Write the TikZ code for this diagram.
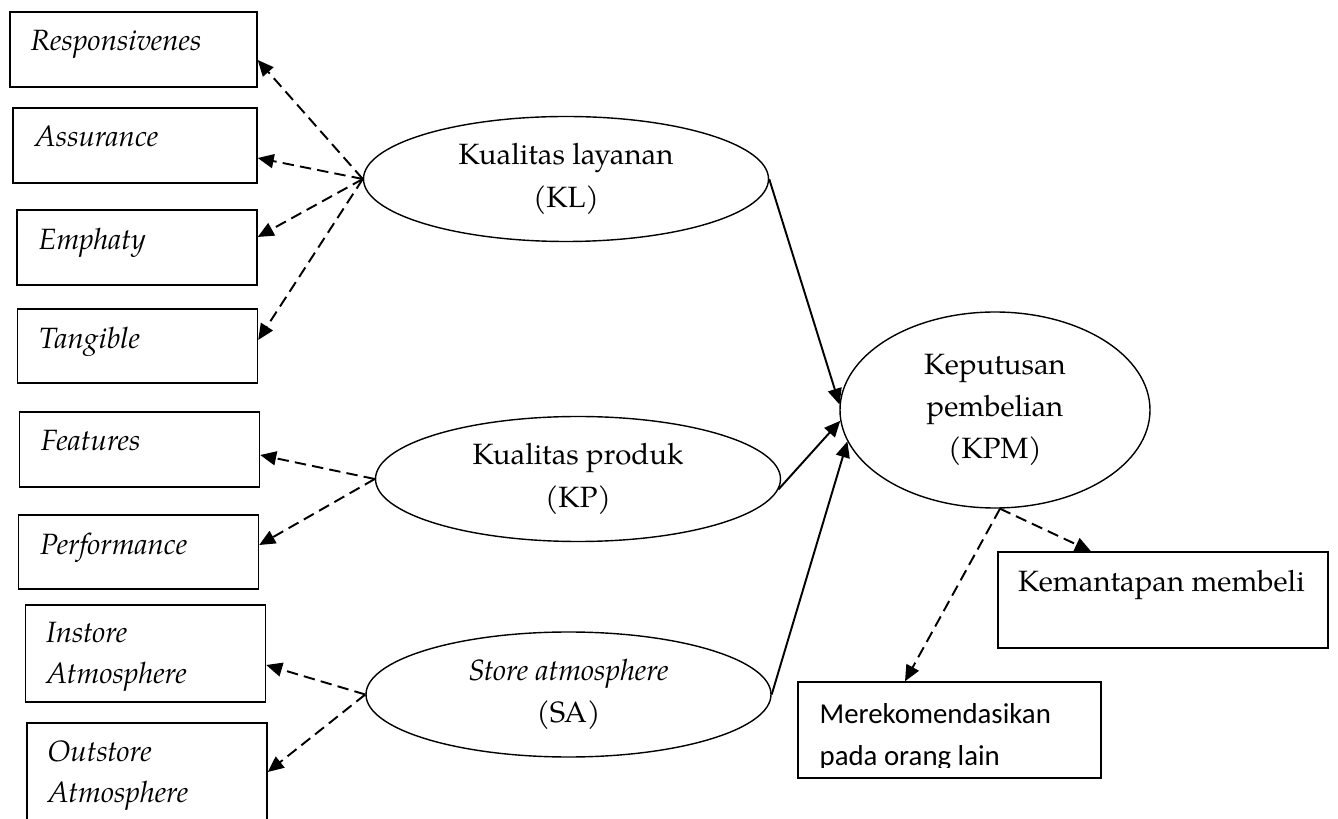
\documentclass[tikz,border=0pt]{standalone}
\usepackage{fontspec}
\setmainfont{TeX Gyre Pagella}
\newfontfamily\calibrifont{Carlito}
\usepackage{tikz}
\usetikzlibrary{shapes.geometric, positioning, arrows.meta}

\begin{document}
\begin{tikzpicture}[>={Triangle[length=3.2mm,width=2.8mm]},
					font=\fontsize{16.7}{23}\selectfont,
					ind/.style={draw, line width=0.8pt, minimum width=4.8cm, minimum height=1.5cm, inner sep=0pt},
					lat/.style={draw, ellipse, line width=0.8pt, minimum width=8.1cm, minimum height=2.5cm,
								inner sep=0pt, align=center, font=\fontsize{16.7}{24}\selectfont},
					lbl/.style={inner sep=0pt, align=left},
					load/.style={->, line width=1.1pt, dash pattern=on 6.5pt off 3.5pt},
					effect/.style={->, line width=1.1pt}]

	\useasboundingbox (0,0) rectangle (26.76,-16.38);

	% indikator
	\node[ind, minimum width=4.94cm] (res) at (2.67,-0.99) {};
	\node[ind, minimum width=4.88cm] (asr) at (2.70,-2.91) {};
	\node[ind] (emp) at (2.74,-4.95) {};
	\node[ind, minimum height=1.48cm] (tan) at (2.75,-6.92) {};
	\node[ind] (fea) at (2.79,-8.99) {};
	\node[ind, minimum height=1.48cm] (per) at (2.77,-11.04) {};
	\node[ind, minimum height=1.94cm] (ins) at (2.91,-13.07) {};
	\node[ind, minimum height=2.24cm] (out) at (2.94,-15.58) {};
	\node[ind, minimum width=6.6cm, minimum height=1.92cm] (kem) at (23.26,-12.00) {};
	\node[ind, minimum width=6.06cm, minimum height=1.92cm] (rek) at (18.99,-14.60) {};

	\node[lbl, below right=0.37cm and 0.42cm of res.north west] (res-t) {\itshape Responsivenes};
	\node[lbl, below right=0.37cm and 0.44cm of asr.north west] (asr-t) {\itshape Assurance};
	\node[lbl, below right=0.36cm and 0.44cm of emp.north west] (emp-t) {\itshape Emphaty};
	\node[lbl, below right=0.36cm and 0.44cm of tan.north west] (tan-t) {\itshape Tangible};
	\node[lbl, below right=0.37cm and 0.44cm of fea.north west] (fea-t) {\itshape Features};
	\node[lbl, below right=0.37cm and 0.44cm of per.north west] (per-t) {\itshape Performance};
	\node[lbl, below right=0.36cm and 0.42cm of ins.north west] (ins-t) {\itshape Instore\\\itshape Atmosphere};
	\node[lbl, below right=0.37cm and 0.42cm of out.north west] (out-t) {\itshape Outstore\\\itshape Atmosphere};
	\node[lbl, below right=0.37cm and 0.41cm of kem.north west] (kem-t) {Kemantapan membeli};
	\begin{scope}
		\clip (rek.north west) rectangle ([yshift=2.2mm]rek.south east);
		\node[lbl, below right=0.44cm and 0.44cm of rek.north west, font=\calibrifont\fontsize{16.4}{24}\selectfont]
			(rek-t) {Merekomendasikan\\pada orang lain};
	\end{scope}

	% variabel laten
	\node[lat] (kl) at (11.32,-3.58) {Kualitas layanan\\(KL)};
	\node[lat] (kp) at (11.56,-9.58) {Kualitas produk\\(KP)};
	\node[lat] (sa) at (11.37,-13.89) {\itshape Store atmosphere\\(SA)};
	\node[lat, minimum width=6.2cm, minimum height=3.92cm] (kpm) at (19.9,-8.2) {Keputusan\\pembelian\\(KPM)};

	\path[load]	(kl.west) edge ([yshift=-2.1mm]res.east)
				(kl.west) edge ([yshift=-2.5mm]asr.east)
				(kl.west) edge ([yshift=2.1mm]emp.east)
				(kl.west) edge ([yshift=1.2mm]tan.east)
				(kp.west) edge ([yshift=-1.1mm]fea.east)
				(kp.west) edge ([yshift=1.4mm]per.east)
				(sa.west) edge ([yshift=-2.3mm]ins.east)
				(sa.west) edge ([yshift=1.4mm]out.east)
				([xshift=1mm]kpm.south) edge ([xshift=-8.9mm]rek.north)
				([xshift=1mm]kpm.south) edge ([xshift=-14.4mm]kem.north)
;

	\path[effect]	(kl.east) edge (kpm.178)
					(kp.-3) edge (kpm.184)
					(sa.east) edge (kpm.192)
;
\end{tikzpicture}
\end{document}
